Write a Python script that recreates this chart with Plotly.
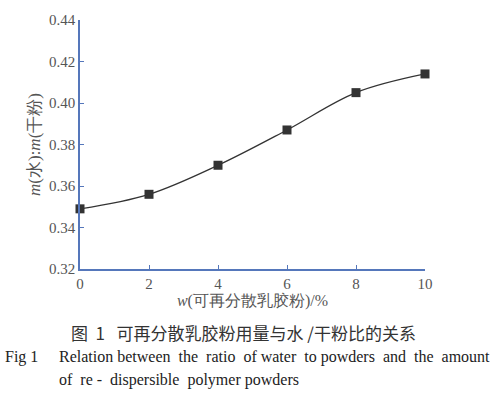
import plotly.graph_objects as go

x_vals = [0, 2, 4, 6, 8, 10]
y_vals = [0.349, 0.356, 0.370, 0.387, 0.405, 0.414]
x_ticks = [0, 2, 4, 6, 8, 10]
y_ticks = [0.32, 0.34, 0.36, 0.38, 0.40, 0.42, 0.44]

axis_col = "#5577bb"
SERIF = "'Times New Roman', 'Liberation Serif', 'DejaVu Serif', serif"
tick_font = dict(family=SERIF, size=15, color="#555555")

fig = go.Figure()
fig.add_trace(go.Scatter(
    x=x_vals, y=y_vals, mode="lines+markers",
    line=dict(shape="spline", smoothing=1.0, color="#333333", width=1.3),
    marker=dict(symbol="square", size=9, color="#333333"),
    showlegend=False, cliponaxis=False,
))

fig.update_layout(
    width=496, height=393,
    margin=dict(l=80, r=71, t=17, b=124),
    paper_bgcolor="white", plot_bgcolor="white",
    xaxis=dict(
        range=[0, 10], tickvals=x_ticks, ticktext=[str(v) for v in x_ticks],
        showgrid=False, zeroline=False, showline=True, linecolor=axis_col, linewidth=1.5,
        ticks="inside", ticklen=4, tickcolor=axis_col, tickfont=tick_font,
        title=dict(text="<i>w</i>(可再分散乳胶粉)/%",
                   font=dict(family=SERIF, size=16, color="#555555"), standoff=0),
    ),
    yaxis=dict(
        range=[0.32, 0.44], tickvals=y_ticks, ticktext=[f"{v:.2f}" for v in y_ticks],
        showgrid=False, zeroline=False, showline=True, linecolor=axis_col, linewidth=1.5,
        ticks="inside", ticklen=4, tickcolor=axis_col, tickfont=tick_font,
        title=dict(text="<i>m</i>(水):<i>m</i>(干粉)",
                   font=dict(family=SERIF, size=17, color="#555555"), standoff=4),
    ),
)

plot_w = 496 - 80 - 71
plot_h = 393 - 17 - 124
def px_to_paper(px, py):
    return ((px - 80) / plot_w, (393 - 124 - py) / plot_h)

xp, yp = px_to_paper(243, 333)
fig.add_annotation(xref="paper", yref="paper", x=xp, y=yp, xanchor="center", yanchor="middle",
                   text="图  1   可再分散乳胶粉用量与水 /干粉比的关系", showarrow=False,
                   font=dict(family="Noto Sans CJK SC", size=17, color="#333333"))

for px, py, txt in [
    (3, 358, "Fig 1"),
    (57, 358, "Relation between  the  ratio  of water  to powders  and  the  amount"),
    (57, 381, "of  re -  dispersible  polymer powders"),
]:
    xp, yp = px_to_paper(px, py)
    fig.add_annotation(xref="paper", yref="paper", x=xp, y=yp, xanchor="left", yanchor="middle",
                       text=txt, showarrow=False,
                       font=dict(family=SERIF, size=16, color="#222222"))

fig.write_html("out.html")
